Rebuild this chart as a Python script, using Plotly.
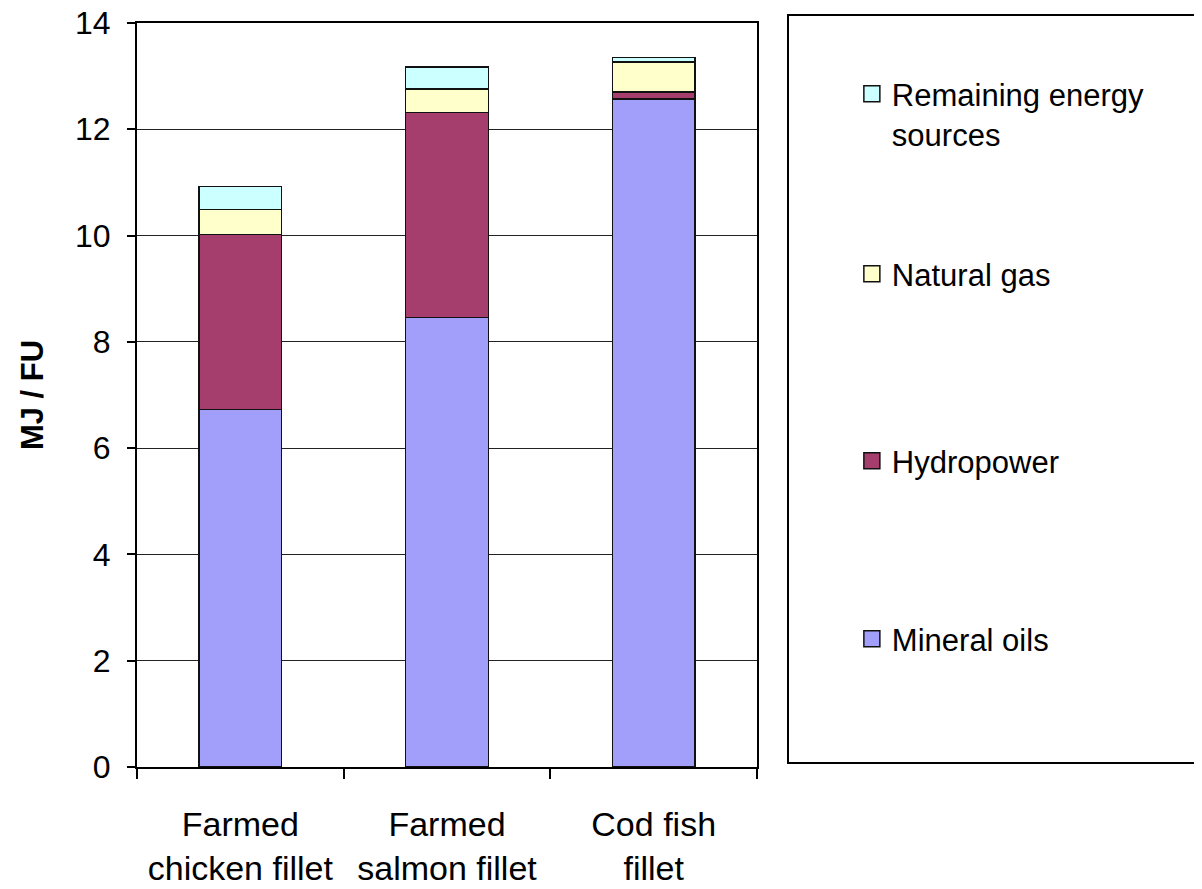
import plotly.graph_objects as go

categories = ["Farmed<br>chicken fillet", "Farmed<br>salmon fillet", "Cod fish<br>fillet"]
mineral_oils = [6.73, 8.46, 12.57]
hydropower = [3.29, 3.86, 0.13]
natural_gas = [0.47, 0.44, 0.57]
remaining = [0.43, 0.41, 0.08]
y_ticks = [0, 2, 4, 6, 8, 10, 12, 14]

series = [
    ("Mineral oils", mineral_oils, "#A29FFB"),
    ("Hydropower", hydropower, "#A53D6D"),
    ("Natural gas", natural_gas, "#FFFFCC"),
    ("Remaining energy<br>sources", remaining, "#CCFFFF"),
]
legend_names = ["legend4", "legend3", "legend2", "legend"]
legend_tops = [612, 434, 247, 67]  # page pixel y of each legend entry's top

# page body has an 8px margin, so offsets are compensated
L, T = 129, 15
PW, PH = 620, 744
BOT = T + PH  # plot bottom in figure pixels


def py(pix):
    """page pixel y -> paper fraction"""
    return (BOT + 8 - pix) / PH


fig = go.Figure()
for i, (name, vals, col) in enumerate(series):
    fig.add_trace(go.Bar(
        x=categories, y=vals, name=name, showlegend=False,
        marker=dict(color=col, line=dict(color="#111111", width=1.5)),
    ))
    # legend entry with a larger square swatch, each in its own positioned legend
    fig.add_trace(go.Scatter(
        x=[None], y=[None], mode="markers", name=name,
        legend=legend_names[i],
        marker=dict(symbol="square", size=16, color=col,
                    line=dict(color="#111111", width=1.5)),
    ))

legend_common = dict(x=1.153, xanchor="left", yanchor="top",
                     font=dict(size=31), valign="top", bgcolor="rgba(0,0,0,0)")

fig.update_layout(
    barmode="stack",
    bargap=0.6,
    width=1202, height=889,
    margin=dict(l=L, r=1202 - L - PW, t=T, b=889 - BOT, autoexpand=False),
    paper_bgcolor="white", plot_bgcolor="white",
    font=dict(family="Liberation Sans, Arial, sans-serif", color="black"),
    showlegend=True,
    shapes=[dict(type="rect", xref="paper", yref="paper",
                 x0=(788 - 137) / PW, x1=(1215 - 137) / PW,
                 y0=py(763), y1=py(15),
                 line=dict(color="black", width=2), fillcolor="rgba(0,0,0,0)")],
)
for i, lname in enumerate(legend_names):
    fig.update_layout({lname: dict(legend_common, y=py(legend_tops[i]))})

fig.update_xaxes(
    automargin=False, ticklabeloverflow="allow",
    showline=True, linecolor="black", linewidth=2, mirror=True,
    ticks="outside", tickson="boundaries", ticklen=10, tickcolor="black", tickwidth=1.5,
    tickfont=dict(size=34), ticklabelstandoff=26,
    showgrid=False,
)
fig.update_yaxes(
    automargin=False, ticklabeloverflow="allow",
    range=[0, 14], tickvals=y_ticks,
    showline=True, linecolor="black", linewidth=2, mirror=True,
    ticks="outside", ticklen=8, tickcolor="black", tickwidth=1.5,
    tickfont=dict(size=32), ticklabelstandoff=10,
    showgrid=True, gridcolor="#222222", gridwidth=1,
    title=dict(text="<b>MJ / FU</b>", font=dict(size=31), standoff=22),
)

fig.write_html("out.html")
